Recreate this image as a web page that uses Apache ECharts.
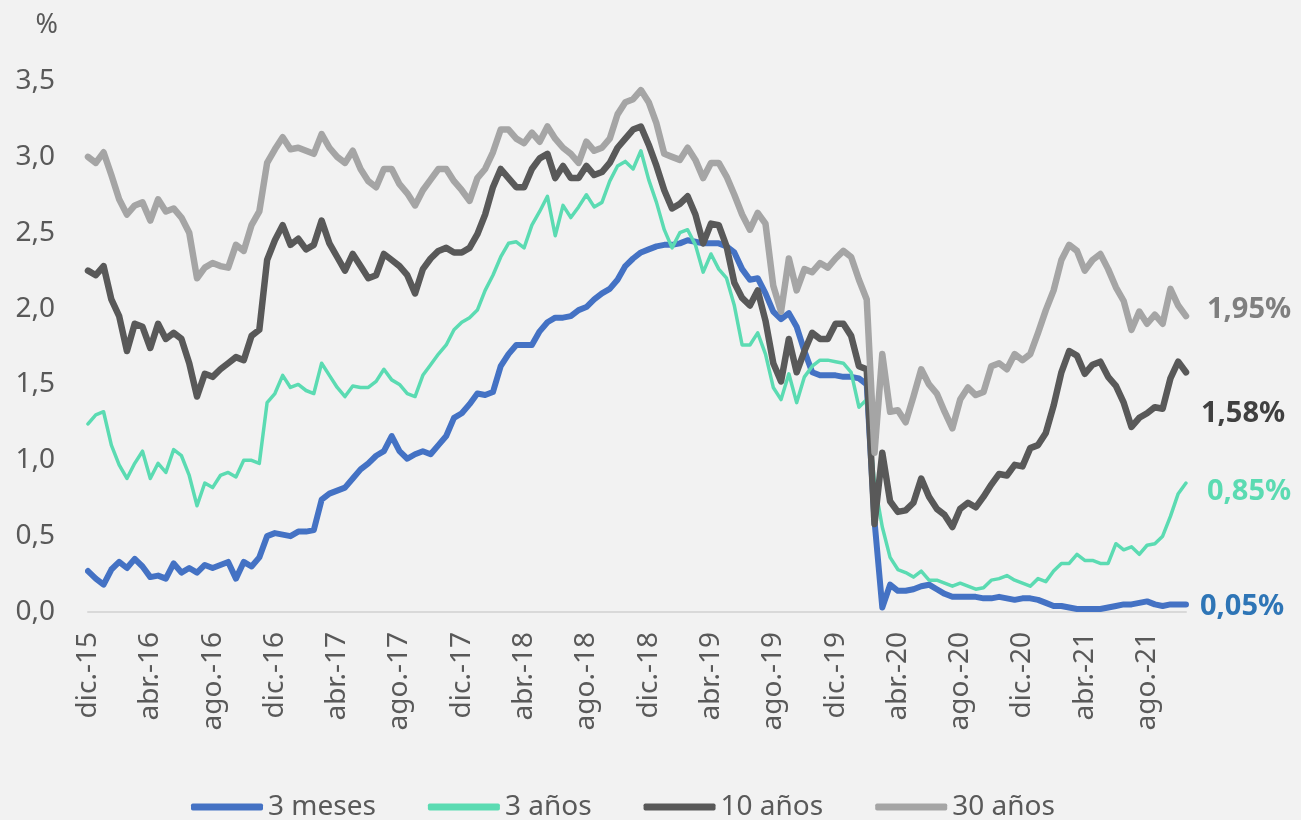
<!DOCTYPE html>
<html lang="es">
<head>
<meta charset="utf-8">
<title>Rentabilidad de la deuda pública de EE. UU.</title>
<script src="https://cdn.jsdelivr.net/npm/echarts@6/dist/echarts.min.js"></script>
<style>
  html, body { margin: 0; padding: 0; background: #F2F2F2; }
  #chart { width: 1301px; height: 820px; }
</style>
</head>
<body>
<div id="chart"></div>
<script>
// Rentabilidades quincenales (%), desde el 1 de diciembre de 2015
const meses3 = [0.27,0.22,0.18,0.28,0.33,0.29,0.35,0.30,0.23,0.24,0.22,0.32,0.26,0.29,0.26,0.31,0.29,0.31,0.33,0.22,
  0.33,0.30,0.36,0.50,0.52,0.51,0.50,0.53,0.53,0.54,0.74,0.78,0.80,0.82,0.88,0.94,0.98,1.03,1.06,1.16,
  1.06,1.01,1.04,1.06,1.04,1.10,1.16,1.28,1.31,1.37,1.44,1.43,1.45,1.62,1.70,1.76,1.76,1.76,1.85,1.91,
  1.94,1.94,1.95,1.99,2.01,2.06,2.10,2.13,2.19,2.28,2.33,2.37,2.39,2.41,2.42,2.42,2.43,2.45,2.44,2.43,
  2.43,2.43,2.41,2.37,2.26,2.19,2.20,2.10,1.98,1.93,1.97,1.88,1.72,1.58,1.56,1.56,1.56,1.55,1.55,1.54,
  1.50,0.60,0.03,0.18,0.14,0.14,0.15,0.17,0.18,0.15,0.12,0.10,0.10,0.10,0.10,0.09,0.09,0.10,0.09,0.08,
  0.09,0.09,0.08,0.06,0.04,0.04,0.03,0.02,0.02,0.02,0.02,0.03,0.04,0.05,0.05,0.06,0.07,0.05,0.04,0.05,
  0.05,0.05];

const anos3 = [1.24,1.30,1.32,1.10,0.97,0.88,0.98,1.06,0.88,0.98,0.92,1.07,1.03,0.90,0.70,0.85,0.82,0.90,0.92,0.89,
  1.00,1.00,0.98,1.38,1.44,1.56,1.48,1.50,1.46,1.44,1.64,1.56,1.48,1.42,1.49,1.48,1.48,1.52,1.60,1.53,
  1.50,1.44,1.42,1.56,1.63,1.70,1.76,1.86,1.91,1.94,1.99,2.12,2.22,2.34,2.43,2.44,2.40,2.55,2.64,2.74,
  2.48,2.68,2.60,2.67,2.75,2.67,2.70,2.84,2.94,2.97,2.92,3.04,2.85,2.70,2.52,2.40,2.50,2.52,2.42,2.24,
  2.36,2.26,2.20,2.02,1.76,1.76,1.84,1.70,1.48,1.40,1.57,1.38,1.55,1.62,1.66,1.66,1.65,1.64,1.58,1.35,
  1.40,0.85,0.56,0.36,0.28,0.26,0.23,0.27,0.21,0.21,0.19,0.17,0.19,0.17,0.15,0.16,0.21,0.22,0.24,0.21,
  0.19,0.17,0.22,0.20,0.27,0.32,0.32,0.38,0.34,0.34,0.32,0.32,0.45,0.41,0.43,0.38,0.44,0.45,0.50,0.63,
  0.78,0.85];

const anos10 = [2.25,2.22,2.28,2.06,1.95,1.72,1.90,1.88,1.74,1.90,1.80,1.84,1.80,1.64,1.42,1.57,1.55,1.60,1.64,1.68,
  1.66,1.82,1.86,2.32,2.45,2.55,2.42,2.46,2.39,2.42,2.58,2.43,2.34,2.25,2.36,2.28,2.20,2.22,2.36,2.32,
  2.28,2.22,2.10,2.26,2.33,2.38,2.40,2.37,2.37,2.40,2.49,2.62,2.80,2.92,2.86,2.80,2.80,2.92,2.99,3.02,
  2.86,2.94,2.86,2.86,2.94,2.88,2.90,2.96,3.06,3.12,3.18,3.20,3.08,2.94,2.78,2.66,2.69,2.74,2.62,2.43,
  2.56,2.55,2.41,2.17,2.07,2.02,2.12,1.92,1.64,1.52,1.80,1.58,1.72,1.84,1.80,1.80,1.90,1.90,1.82,1.62,
  1.60,0.58,1.05,0.73,0.66,0.67,0.72,0.88,0.76,0.68,0.64,0.56,0.68,0.72,0.69,0.76,0.84,0.91,0.90,0.97,
  0.96,1.08,1.10,1.18,1.36,1.58,1.72,1.69,1.57,1.63,1.65,1.55,1.49,1.38,1.22,1.28,1.31,1.35,1.34,1.54,
  1.65,1.58];

const anos30 = [3.00,2.96,3.03,2.88,2.72,2.62,2.68,2.70,2.58,2.72,2.64,2.66,2.60,2.50,2.20,2.27,2.30,2.28,2.27,2.42,
  2.38,2.55,2.64,2.96,3.05,3.13,3.05,3.06,3.04,3.02,3.15,3.06,3.00,2.96,3.04,2.92,2.84,2.80,2.92,2.92,
  2.82,2.76,2.68,2.78,2.85,2.92,2.92,2.84,2.78,2.71,2.86,2.92,3.03,3.18,3.18,3.12,3.09,3.16,3.10,3.20,
  3.12,3.06,3.02,2.96,3.10,3.04,3.06,3.12,3.28,3.36,3.38,3.44,3.36,3.22,3.02,3.00,2.98,3.06,2.98,2.86,
  2.96,2.96,2.87,2.75,2.62,2.52,2.63,2.56,2.15,1.98,2.33,2.12,2.26,2.24,2.30,2.27,2.33,2.38,2.34,2.19,
  2.06,1.05,1.70,1.32,1.33,1.25,1.42,1.60,1.50,1.44,1.32,1.21,1.40,1.48,1.43,1.45,1.62,1.64,1.60,1.70,
  1.66,1.70,1.84,1.99,2.12,2.32,2.42,2.38,2.25,2.32,2.36,2.26,2.14,2.05,1.86,1.98,1.90,1.96,1.90,2.13,
  2.02,1.95];

// Etiquetas del eje temporal, una cada cuatro meses
const etiquetasFecha = ['dic.-15','abr.-16','ago.-16','dic.-16','abr.-17','ago.-17','dic.-17','abr.-18','ago.-18',
  'dic.-18','abr.-19','ago.-19','dic.-19','abr.-20','ago.-20','dic.-20','abr.-21','ago.-21'];

// Fechas quincenales (días 1 y 16 de cada mes)
const fechas = [];
for (let k = 0; k < meses3.length; k++) {
  const mes = 11 + Math.floor(k / 2);
  const anio = 2015 + Math.floor(mes / 12);
  const m = (mes % 12) + 1;
  fechas.push(anio + '-' + String(m).padStart(2, '0') + '-' + (k % 2 ? '16' : '01'));
}

const fmt = (v, d) => v.toFixed(d).replace('.', ',');
const FONT = 'Noto Sans';

function serie(nombre, datos, color, ancho, colorEtiqueta, desplaz) {
  return {
    name: nombre,
    type: 'line',
    data: datos,
    symbol: 'none',
    showSymbol: false,
    lineStyle: { color: color, width: ancho, join: 'round', cap: 'round' },
    itemStyle: { color: color },
    endLabel: {
      show: true,
      formatter: p => fmt(p.value, 2) + '%',
      color: colorEtiqueta,
      fontFamily: FONT,
      fontWeight: 'bold',
      fontSize: 29,
      distance: 5,
      offset: desplaz
    }
  };
}

const chart = echarts.init(document.getElementById('chart'), null, { renderer: 'canvas' });
chart.setOption({
  animation: false,
  backgroundColor: '#F2F2F2',
  textStyle: { fontFamily: FONT },
  grid: { left: 88, right: 115, top: 81, bottom: 208, containLabel: false },
  legend: {
    left: 186,
    top: 788,
    icon: 'roundRect',
    itemWidth: 72,
    itemHeight: 7,
    itemGap: 52,
    textStyle: { color: '#595959', fontSize: 28, fontFamily: FONT },
    data: ['3 meses', '3 años', '10 años', '30 años']
  },
  xAxis: {
    type: 'category',
    data: fechas,
    boundaryGap: false,
    axisLine: { show: true, lineStyle: { color: '#D9D9D9', width: 2 } },
    axisTick: { show: false },
    axisLabel: {
      interval: i => i % 8 === 0,
      rotate: 90,
      margin: 20,
      color: '#595959',
      fontSize: 28,
      fontFamily: FONT,
      formatter: (v, i) => etiquetasFecha[i / 8] || ''
    },
    splitLine: { show: false }
  },
  yAxis: {
    type: 'value',
    min: 0,
    max: 3.5,
    interval: 0.5,
    name: '%',
    nameLocation: 'end',
    nameGap: 42,
    nameTextStyle: { color: '#595959', fontSize: 27, fontFamily: FONT, align: 'right', padding: [0, 30, 0, 0] },
    axisLine: { show: false },
    axisTick: { show: false },
    splitLine: { show: false },
    axisLabel: {
      margin: 33,
      color: '#595959',
      fontSize: 28,
      fontFamily: FONT,
      formatter: v => fmt(v, 1)
    }
  },
  series: [
    serie('3 meses', meses3, '#4472C4', 6, '#2E75B6', [9, 2]),
    serie('3 años', anos3, '#5BDBB2', 3.5, '#5BDBB2', [16, 9]),
    serie('10 años', anos10, '#595959', 6.5, '#404040', [10, 41]),
    serie('30 años', anos30, '#A5A5A5', 6.5, '#7F7F7F', [16, -6])
  ]
});
</script>
</body>
</html>
